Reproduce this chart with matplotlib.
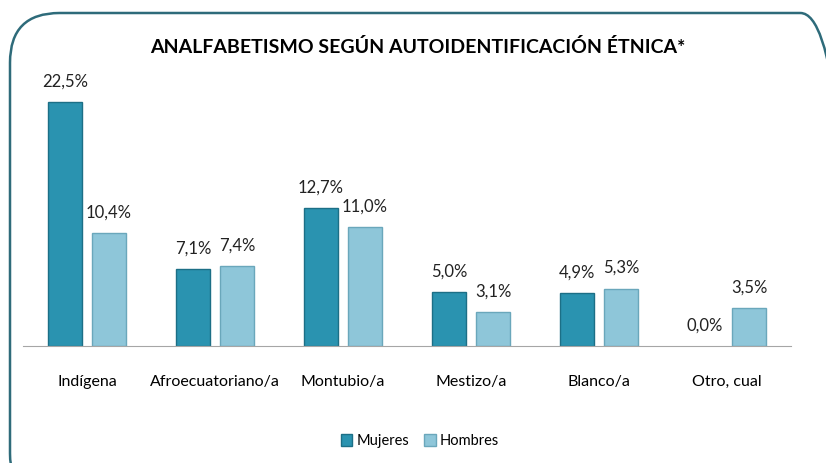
import matplotlib
matplotlib.use("Agg")
import matplotlib.pyplot as plt
from matplotlib.patches import FancyBboxPatch, Patch
import numpy as np

# Datos
categorias = ['Indígena', 'Afroecuatoriano/a', 'Montubio/a', 'Mestizo/a', 'Blanco/a', 'Otro, cual']
mujeres = [22.5, 7.1, 12.7, 5.0, 4.9, 0.0]
hombres = [10.4, 7.4, 11.0, 3.1, 5.3, 3.5]
etiquetas_mujeres = ['22,5%', '7,1%', '12,7%', '5,0%', '4,9%', '0,0%']
etiquetas_hombres = ['10,4%', '7,4%', '11,0%', '3,1%', '5,3%', '3,5%']

plt.rcParams['font.family'] = ['Lato', 'DejaVu Sans']

color_m = '#2a93b0'
color_h = '#8ec6d9'

W, H = 826, 463
fig = plt.figure(figsize=(W / 100, H / 100), dpi=100)

# Marco redondeado
marco = FancyBboxPatch((10 / W, -40 / H), 840 / W, (H - 13 + 40) / H,
                       boxstyle="round,pad=0,rounding_size=0.06",
                       transform=fig.transFigure, facecolor='none',
                       edgecolor='#2e6b7a', linewidth=1.8, clip_on=False,
                       mutation_aspect=W / H, zorder=-1)
fig.patches.append(marco)

ax = fig.add_axes([23 / W, (H - 346) / H, 768 / W, 271 / H])
ax.set_facecolor('none')

x = np.arange(len(categorias))
ancho = 0.273
desp = 0.172

b1 = ax.bar(x - desp, mujeres, ancho, color=color_m, edgecolor='#1c6f86', linewidth=1.0)
b2 = ax.bar(x + desp, hombres, ancho, color=color_h, edgecolor='#6aa7bb', linewidth=1.0)

# sin borde en barras de altura cero
for barra in list(b1) + list(b2):
    if barra.get_height() == 0:
        barra.set_linewidth(0)

for barra, txt in zip(b1, etiquetas_mujeres):
    ax.annotate(txt, (barra.get_x() + barra.get_width() / 2, barra.get_height()),
                xytext=(0, 9), textcoords='offset points', ha='center', va='bottom',
                fontsize=12, color='#222222')
for barra, txt in zip(b2, etiquetas_hombres):
    ax.annotate(txt, (barra.get_x() + barra.get_width() / 2, barra.get_height()),
                xytext=(0, 9), textcoords='offset points', ha='center', va='bottom',
                fontsize=12, color='#222222')

ax.set_xlim(-0.5, 5.5)
ax.set_ylim(0, 25)
ax.set_yticks([])
ax.set_xticks(x)
ax.set_xticklabels(categorias, fontsize=11.5)
ax.tick_params(axis='x', length=0, pad=21)
for s in ['top', 'left', 'right']:
    ax.spines[s].set_visible(False)
ax.spines['bottom'].set_color('#a6a6a6')

fig.text(418 / W, 1 - 47 / H, 'ANALFABETISMO SEGÚN AUTOIDENTIFICACIÓN ÉTNICA*',
         ha='center', va='center', fontsize=14, fontweight='bold', color='black')

fig.legend(handles=[Patch(facecolor=color_m, edgecolor='#1c6f86', label='Mujeres'),
                    Patch(facecolor=color_h, edgecolor='#6aa7bb', label='Hombres')],
           loc='center', bbox_to_anchor=(420 / W, 1 - 441 / H), ncol=2, frameon=False,
           fontsize=10.5, handlelength=0.8, handleheight=0.8, handletextpad=0.3,
           columnspacing=1.0)

fig.savefig('out.png', dpi=100)
